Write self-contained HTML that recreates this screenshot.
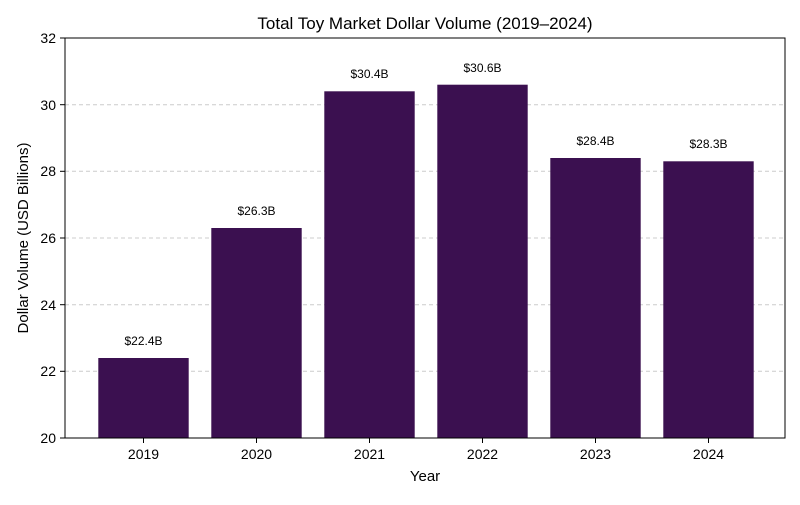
<!DOCTYPE html>
<html><head><style>body{margin:0;background:#fff}</style></head><body>
<svg width="800" height="500" xmlns="http://www.w3.org/2000/svg" font-family="Liberation Sans, sans-serif">
<rect width="800" height="500" fill="#fff"/>
<g stroke="#ccc" stroke-dasharray="4,3" stroke-width="1">
<line x1="65" x2="785" y1="104.7" y2="104.7"/>
<line x1="65" x2="785" y1="171.3" y2="171.3"/>
<line x1="65" x2="785" y1="238" y2="238"/>
<line x1="65" x2="785" y1="304.7" y2="304.7"/>
<line x1="65" x2="785" y1="371.3" y2="371.3"/>
</g>
<g fill="#3b1050">
<rect x="98.3" y="358" width="90.4" height="80"/>
<rect x="211.3" y="228" width="90.4" height="210"/>
<rect x="324.3" y="91.3" width="90.4" height="346.7"/>
<rect x="437.3" y="84.7" width="90.4" height="353.3"/>
<rect x="550.3" y="158" width="90.4" height="280"/>
<rect x="663.3" y="161.3" width="90.4" height="276.7"/>
</g>
<g font-size="12" text-anchor="middle" fill="#000">
<text x="143.5" y="345">$22.4B</text>
<text x="256.5" y="215">$26.3B</text>
<text x="369.5" y="78">$30.4B</text>
<text x="482.5" y="72">$30.6B</text>
<text x="595.5" y="145">$28.4B</text>
<text x="708.5" y="148">$28.3B</text>
</g>
<rect x="65" y="38" width="720" height="400" fill="none" stroke="#000" stroke-width="1"/>
<g stroke="#000">
<line x1="60" x2="65" y1="38" y2="38"/><line x1="60" x2="65" y1="104.7" y2="104.7"/>
<line x1="60" x2="65" y1="171.3" y2="171.3"/><line x1="60" x2="65" y1="238" y2="238"/>
<line x1="60" x2="65" y1="304.7" y2="304.7"/><line x1="60" x2="65" y1="371.3" y2="371.3"/>
<line x1="60" x2="65" y1="438" y2="438"/>
<line x1="143.5" x2="143.5" y1="438" y2="443"/><line x1="256.5" x2="256.5" y1="438" y2="443"/>
<line x1="369.5" x2="369.5" y1="438" y2="443"/><line x1="482.5" x2="482.5" y1="438" y2="443"/>
<line x1="595.5" x2="595.5" y1="438" y2="443"/><line x1="708.5" x2="708.5" y1="438" y2="443"/>
</g>
<g font-size="14" text-anchor="end">
<text x="56" y="43">32</text><text x="56" y="110">30</text><text x="56" y="176">28</text>
<text x="56" y="243">26</text><text x="56" y="310">24</text><text x="56" y="376">22</text><text x="56" y="443">20</text>
</g>
<g font-size="14" text-anchor="middle">
<text x="143.5" y="459">2019</text><text x="256.5" y="459">2020</text><text x="369.5" y="459">2021</text>
<text x="482.5" y="459">2022</text><text x="595.5" y="459">2023</text><text x="708.5" y="459">2024</text>
<text x="425" y="481" font-size="15">Year</text>
<text x="425" y="29" font-size="17">Total Toy Market Dollar Volume (2019–2024)</text>
<text transform="translate(28,238) rotate(-90)" font-size="15">Dollar Volume (USD Billions)</text>
</g>
</svg>
</body></html>
